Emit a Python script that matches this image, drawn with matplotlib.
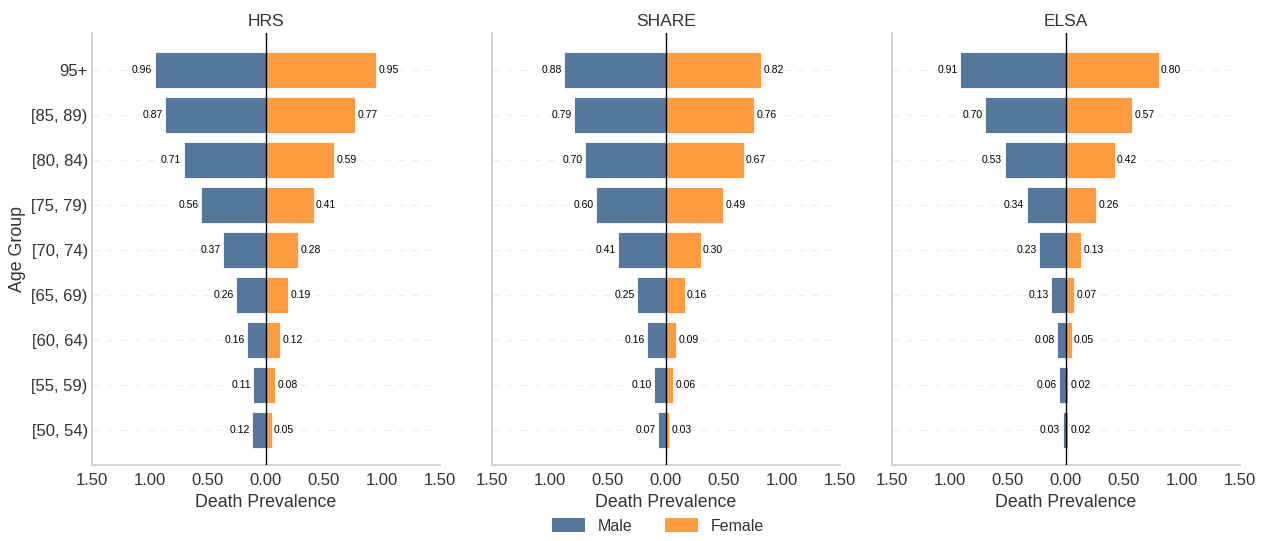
import matplotlib
matplotlib.use("Agg")
import matplotlib.pyplot as plt
from matplotlib.patches import Patch
import numpy as np

plt.rcParams['font.family'] = ['Liberation Sans', 'DejaVu Sans']

age_groups = ["[50, 54)", "[55, 59)", "[60, 64)", "[65, 69)", "[70, 74)",
              "[75, 79)", "[80, 84)", "[85, 89)", "95+"]
studies = ["HRS", "SHARE", "ELSA"]

hrs_male = [0.12, 0.11, 0.16, 0.26, 0.37, 0.56, 0.71, 0.87, 0.96]
hrs_female = [0.05, 0.08, 0.12, 0.19, 0.28, 0.41, 0.59, 0.77, 0.95]
share_male = [0.07, 0.10, 0.16, 0.25, 0.41, 0.60, 0.70, 0.79, 0.88]
share_female = [0.03, 0.06, 0.09, 0.16, 0.30, 0.49, 0.67, 0.76, 0.82]
elsa_male = [0.03, 0.06, 0.08, 0.13, 0.23, 0.34, 0.53, 0.70, 0.91]
elsa_female = [0.02, 0.02, 0.05, 0.07, 0.13, 0.26, 0.42, 0.57, 0.80]

male_values = [hrs_male, share_male, elsa_male]
female_values = [hrs_female, share_female, elsa_female]

xticks = [-1.5, -1.0, -0.5, 0.0, 0.5, 1.0, 1.5]
xtick_labels = ["1.50", "1.00", "0.50", "0.00", "0.50", "1.00", "1.50"]

male_color = "#54779B"
female_color = "#FF9B40"
text_color = "#333333"
spine_color = "#CCCCCC"

fig = plt.figure(figsize=(12.69, 5.41), dpi=100)
lefts = [92, 492, 892]
ax_w, bottom, top = 348, 465, 33
W, H = 1269, 541

axes = []
for i, name in enumerate(studies):
    ax = fig.add_axes([lefts[i] / W, 1 - bottom / H, ax_w / W, (bottom - top) / H])
    axes.append(ax)
    y = np.arange(len(age_groups))
    m = np.array(male_values[i])
    f = np.array(female_values[i])
    ax.barh(y, -m, height=0.8, color=male_color, edgecolor="white", linewidth=0.6, zorder=3)
    ax.barh(y, f, height=0.8, color=female_color, edgecolor="white", linewidth=0.6, zorder=3)
    for yi, mv, fv in zip(y, m, f):
        ax.text(-mv - 0.02, yi, f"{mv:.2f}", ha="right", va="center", fontsize=7.5, color="black", zorder=4)
        ax.text(fv + 0.02, yi, f"{fv:.2f}", ha="left", va="center", fontsize=7.5, color="black", zorder=4)
    ax.axvline(0, color="black", linewidth=1.0, zorder=4)
    ax.set_xlim(-1.5, 1.5)
    ax.set_ylim(-0.78, 8.82)
    ax.set_xticks(xticks)
    ax.set_xticklabels(xtick_labels)
    ax.set_yticks(y)
    ax.grid(axis="y", linestyle=(0, (5, 5)), color="#F0F0F0", linewidth=1.0, zorder=0)
    ax.grid(axis="x", visible=False)
    for s in ["top", "right"]:
        ax.spines[s].set_visible(False)
    for s in ["left", "bottom"]:
        ax.spines[s].set_color(spine_color)
        ax.spines[s].set_linewidth(1.2)
    ax.tick_params(axis="x", length=0, labelsize=12, colors=text_color, pad=6)
    ax.tick_params(axis="y", length=0, labelsize=12, colors=text_color, pad=3)
    ax.set_title(name, fontsize=12.5, color=text_color, pad=5)
    ax.set_xlabel("Death Prevalence", fontsize=12.8, color=text_color, labelpad=4)
    if i == 0:
        ax.set_yticklabels(age_groups)
        ax.set_ylabel("Age Group", fontsize=12.8, color=text_color, labelpad=4)
    else:
        ax.set_yticklabels([])

handles = [Patch(facecolor=male_color, label="Male"), Patch(facecolor=female_color, label="Female")]
fig.legend(handles=handles, loc="center", bbox_to_anchor=(658 / W, 1 - 526 / H), ncol=2,
           frameon=False, fontsize=11.5, handlelength=2.1, handleheight=0.9, handletextpad=0.8,
           columnspacing=2.0, labelcolor=text_color)

fig.savefig("out.png", dpi=100)
